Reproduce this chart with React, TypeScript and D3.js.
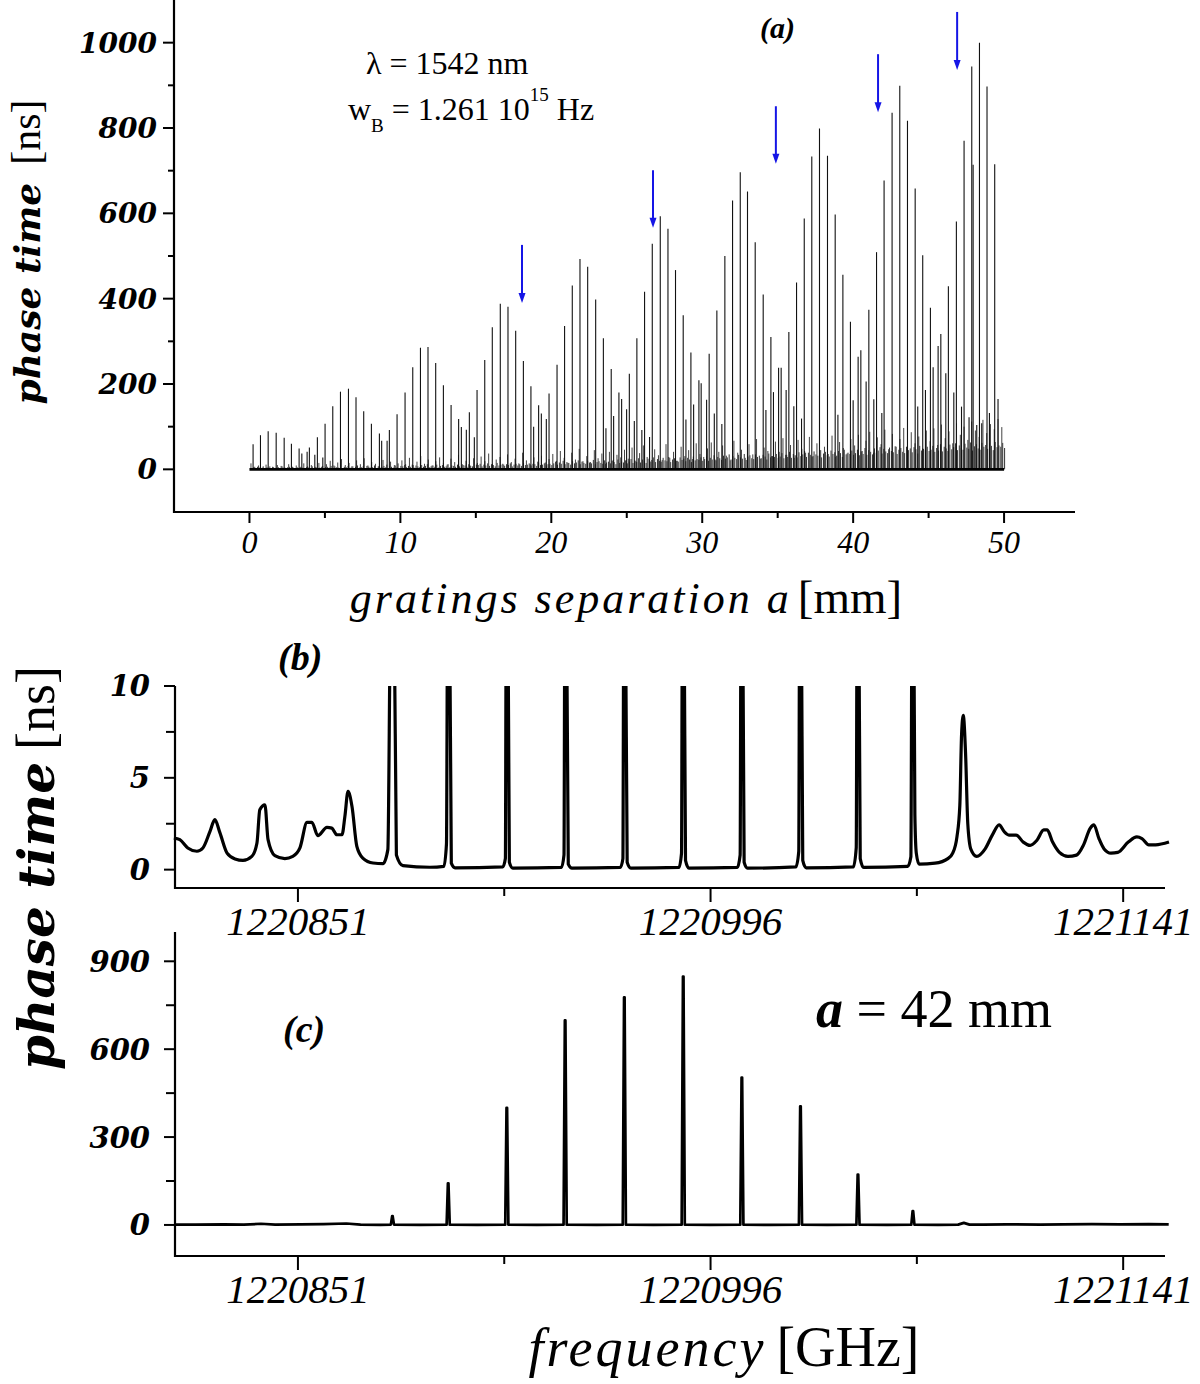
import React from "react";
import * as d3 from "d3";

// ---------- Panel (a): phase time vs gratings separation ----------
const sepA = [0.24,0.73,1.24,1.77,2.30,2.78,3.29,3.47,3.82,3.97,
  4.33,4.50,4.86,5.01,5.52,6.03,6.56,7.06,7.57,8.08,
  8.61,8.76,9.12,9.27,9.78,10.31,10.82,11.33,11.83,12.34,
  12.85,13.36,13.86,14.04,14.37,14.57,14.90,15.08,15.59,16.09,
  16.62,17.13,17.64,18.15,18.65,18.83,19.16,19.34,19.67,19.85,
  20.38,20.88,21.39,21.90,22.41,22.94,23.45,23.62,23.97,24.13,
  24.48,24.66,24.99,25.17,25.50,25.67,26.00,26.18,26.51,26.69,
  27.22,27.73,28.23,28.74,28.92,29.25,29.43,29.78,29.93,30.29,
  30.46,30.80,30.97,31.30,31.50,32.01,32.52,33.00,33.51,34.04,
  34.22,34.55,34.72,35.06,35.23,35.56,35.74,36.07,36.25,36.58,
  36.76,37.26,37.77,38.30,38.81,38.99,39.32,39.82,40.00,40.33,
  40.51,40.86,41.04,41.37,41.55,41.90,42.05,42.58,43.09,43.60,
  44.11,44.28,44.61,44.79,45.12,45.30,45.63,45.81,46.14,46.31,
  46.67,46.84,47.18,47.35,47.68,47.86,47.95,48.19,48.37,48.52,
  48.87,49.03,49.38,49.60];

const timeA = [59,80,89,86,74,60,49,37,41,51,
  34,75,28,107,148,182,189,169,136,107,
  84,67,67,92,129,180,239,285,287,249,
  197,151,118,99,93,134,75,186,256,333,
  388,381,325,254,195,100,150,131,118,178,
  245,336,431,493,475,398,307,96,235,125,
  180,165,141,224,113,307,92,416,76,529,
  593,564,467,361,117,274,152,209,202,163,
  271,131,372,106,500,630,696,651,532,410,
  139,310,181,238,238,186,322,148,438,119,
  588,733,799,735,597,128,456,346,162,264,
  279,206,374,164,509,132,677,836,899,817,
  658,147,502,186,379,239,289,317,225,429,
  180,581,147,770,122,944,714,104,1000,108,
  897,132,715,165];

// low-level "grass" lines, sampled every 0.25 mm starting at 0.1 mm
const grassStart = 0.1;
const grassStep = 0.25;
const grassTime = [
  14,6,9,4,11,7,5,10,8,4,12,6,9,5,14,7,10,6,15,8,
  12,20,9,16,24,10,15,7,21,12,26,9,17,13,8,22,11,18,10,14,
  21,12,27,10,18,31,13,23,9,19,28,15,11,25,17,34,12,20,10,26,
  15,30,19,37,13,23,29,11,35,17,25,14,39,21,12,28,18,32,16,24,
  36,20,43,27,15,39,23,48,19,31,17,45,26,37,13,41,22,34,28,46,
  25,51,19,38,56,29,17,47,33,22,59,27,41,20,53,31,45,24,61,36,
  29,49,63,23,41,56,32,21,67,39,46,27,59,35,71,25,51,43,31,65,
  41,73,34,57,27,69,48,39,76,31,61,45,53,36,79,29,64,50,37,71,
  56,81,43,67,88,39,75,59,93,47,83,53,71,97,45,87,61,77,49,91,
  66,96,57,105,73,89,61,108,81,100,69,112,91,76,116,85,106,94,118,99];

// very short lines that thicken the base band, every 0.125 mm from 0.16 mm
const fuzzStart = 0.16;
const fuzzStep = 0.125;
const fuzzTime = [
  3,5,2,6,4,3,7,2,5,4,3,6,2,4,5,3,7,4,2,5,6,3,4,2,5,3,6,4,2,5,4,3,7,2,5,3,4,6,2,5,
  6,4,8,3,7,5,4,9,3,6,5,8,4,7,3,6,9,4,5,7,3,8,6,4,5,9,3,7,4,6,8,5,3,7,6,4,9,5,3,8,
  7,10,5,8,6,11,4,9,7,5,10,6,8,12,5,7,9,6,11,4,8,10,6,7,12,5,9,8,6,11,7,5,10,9,6,12,8,7,5,11,
  10,13,7,11,9,14,8,12,10,7,15,9,11,13,8,12,10,14,7,11,13,9,12,8,15,10,11,14,9,13,12,8,16,10,11,14,9,12,13,10,
  14,18,11,16,13,20,12,17,15,11,19,14,16,21,12,18,15,13,20,16,14,22,12,17,19,15,13,21,16,18,14,20,17,12,23,15,18,16,21,14,
  18,24,15,21,17,26,16,23,20,15,25,19,22,28,17,24,20,18,27,21,19,29,17,23,26,20,18,28,22,25,19,27,23,17,30,21,24,22,28,20,
  24,30,20,27,23,33,21,29,26,22,32,25,28,35,23,31,27,24,34,28,25,36,22,30,33,26,24,35,29,32,26,34,30,23,37,28,31,29,36,27,
  30,38,26,34,29,41,27,36,33,28,40,31,35,43,29,39,34,30,42,35,32,45,28,37,41,33,30,44,36,40,32,43,38,29,46,35,39,36,44,34,
  38,46,33,42,36,50,34,45,41,35,49,39,44,52,37,48,42,38,51,43,40,54,36,46,50,41,38,53,45,49,40,52,47,37,55,44,48,45,53,43,
  46,55,41,50,44,59,42,53,49,43,58,47,52,61,45,56,50,46,60,51,48,63,44,54,59,49,46,62,53,57,48,61,55,45,64,52,56,53,62,50];

const arrowSep = [18.06, 26.74, 34.88, 41.65, 46.89];
const arrowTop = [526, 701, 851, 973, 1072];
const arrowTip = [390, 566, 716, 837, 936];

const xTicksA = [0, 10, 20, 30, 40, 50];
const xMinorA = [5, 15, 25, 35, 45];
const yTicksA = [0, 200, 400, 600, 800, 1000];
const yMinorA = [100, 300, 500, 700, 900];

// ---------- Panel (b): phase time vs frequency ----------
const freqB = [
  1220807.4,1220809.5,1220812.3,1220815.5,1220817.6,1220820.1,1220821.8,1220823.6,1220826.1,1220828.9,
  1220831.7,1220834.8,1220836.6,1220837.6,1220839.4,1220840.5,1220842.9,1220846.4,1220849.2,1220851.7,
  1220854.2,1220855.9,1220858.0,1220861.2,1220862.9,1220864.7,1220866.5,1220867.5,1220868.6,1220870.0,
  1220871.7,1220873.8,1220877.4,1220880.9,1220882.6,1220883.6,1220884.8,1220885.6,1220887.9,1220897.4,
  1220902.3,1220903.2,1220903.6,1220904.3,1220904.9,1220906.2,
  1220923.0,1220923.9,1220924.2,1220924.8,1220925.3,1220926.5,
  1220943.6,1220944.5,1220944.8,1220945.4,1220946.0,1220947.3,
  1220964.3,1220965.2,1220965.5,1220966.1,1220966.7,1220968.0,
  1220984.9,1220985.8,1220986.1,1220986.7,1220987.2,1220988.4,
  1221005.4,1221006.4,1221006.7,1221007.3,1221007.8,1221009.0,
  1221026.0,1221027.0,1221027.3,1221027.9,1221028.4,1221029.6,
  1221046.2,1221047.2,1221047.5,1221048.1,1221048.6,1221049.8,
  1221065.3,1221066.4,1221066.8,1221067.4,1221067.8,1221068.3,1221069.3,1221074.9,1221079.4,
  1221081.1,1221082.6,1221083.6,1221084.2,1221084.8,1221085.6,1221086.4,1221087.5,1221089.5,1221092.5,
  1221095.0,1221097.4,1221099.2,1221101.0,1221103.4,1221105.9,1221108.3,1221110.7,1221113.1,1221114.3,
  1221116.2,1221118.6,1221121.6,1221124.6,1221127.0,1221129.4,1221130.7,1221132.5,1221134.3,1221136.7,
  1221139.1,1221142.8,1221145.8,1221147.6,1221150.0,1221152.4,1221157.1];
const timeB = [
  1.72,1.63,1.18,1.00,1.18,2.08,2.72,2.00,0.90,0.58,
  0.50,0.72,1.45,3.26,3.53,1.63,0.76,0.60,0.72,1.18,
  2.57,2.57,1.85,2.30,2.26,1.90,1.90,2.90,4.26,3.44,
  1.27,0.63,0.36,0.33,1.09,14,14,0.80,0.22,0.13,
  0.18,1.40,14,14,0.35,0.10,
  0.15,0.60,14,14,0.40,0.08,
  0.12,0.80,14,14,0.30,0.08,
  0.12,0.60,14,14,0.40,0.08,
  0.12,0.90,14,14,0.50,0.08,
  0.12,0.80,14,14,0.40,0.08,
  0.15,1.00,14,14,0.50,0.10,
  0.15,1.20,14,14,0.60,0.12,
  0.18,0.70,14,14,3.00,0.90,0.30,0.35,0.60,
  0.90,1.80,3.50,7.30,8.40,6.40,2.50,1.10,0.72,1.13,
  1.88,2.44,2.07,1.88,1.88,1.50,1.32,1.60,2.16,2.16,
  1.50,0.94,0.72,0.79,1.32,2.25,2.44,1.69,1.13,0.90,
  0.94,1.50,1.78,1.69,1.35,1.35,1.50];

const yTicksB = [0, 5, 10];
const yMinorB = [2.5, 7.5];

// ---------- Panel (c): phase time vs frequency, a = 42 mm ----------
const peakFreqC = [1220884.2,1220903.8,1220924.4,1220944.9,1220965.7,1220986.4,1221007.0,1221027.6,1221047.8,1221067.1];
const peakTimeC = [30,142,400,698,777,848,503,405,172,47];
const baseFreqC = [1220807.5,1220815,1220825,1220832,1220838,1220843,1220852,1220860,1220868,1220873,1220880,
  1220894,1220914,1220935,1220956,1220976,1220996,1221017,1221037,1221058,1221076,1221083,1221085,1221087,
  1221092,1221100,1221112,1221120,1221130,1221140,1221150,1221157];
const baseTimeC = [1,1,2,1,4,1,2,3,5,1,0.5,0,0,0,0,0,0,0,0,0,0.5,1,7,1,1,2,1,2,3,2,3,2];

const yTicksC = [0, 300, 600, 900];
const yMinorC = [150, 450, 750];

const xTicksF = [1220851, 1220996, 1221141];
const xMinorF = [1220923.5, 1221068.5];

const TICKY_FONT = "'DejaVu Serif', serif";
const SERIF = "'Liberation Serif', 'Times New Roman', serif";

export default function App() {
  const xA = d3.scaleLinear().domain([-5, 54.7]).range([174, 1075]);
  const yA = d3.scaleLinear().domain([-100, 1100]).range([512, 0]);
  const xF = d3.scaleLinear().domain([1220807.8, 1221155.7]).range([175, 1165]);
  const yB = d3.scaleLinear().domain([-1, 10]).range([888, 686]);
  const yC = d3.scaleLinear().domain([-106, 1000]).range([1256, 932]);

  const mainA = d3.zip(sepA, timeA);
  const grass = grassTime.map((t, i) => [grassStart + i * grassStep, t]);
  const fuzz = fuzzTime.map((t, i) => [fuzzStart + i * fuzzStep, t]);

  const ptsB = d3.zip(freqB, timeB) as [number, number][];
  const lineB = d3.line<[number, number]>().x(d => xF(d[0])).y(d => yB(d[1])).curve(d3.curveMonotoneX);

  const spikes: [number, number][] = [];
  peakFreqC.forEach((f, i) => {
    spikes.push([f - 0.55, 1], [f - 0.1, peakTimeC[i]], [f + 0.1, peakTimeC[i]], [f + 0.55, 1]);
  });
  const ptsC = ([...(d3.zip(baseFreqC, baseTimeC) as [number, number][]), ...spikes]).sort((a, b) => a[0] - b[0]);
  const lineC = d3.line<[number, number]>().x(d => xF(d[0])).y(d => yC(d[1]));

  const axisW = 2.2;

  return (
    <svg width={1200} height={1384} style={{ position: "absolute", left: 0, top: 0, background: "#fff" }}>
      <rect x={0} y={0} width={1200} height={1384} fill="#fff" />
      <defs>
        <clipPath id="clipB">
          <rect x={170} y={yB(10)} width={1010} height={yB(-1) - yB(10)} />
        </clipPath>
      </defs>

      {/* ================= Panel (a) ================= */}
      <g>
        {fuzz.map(([s, t], i) => (
          <line key={"f" + i} x1={xA(s)} x2={xA(s)} y1={yA(0)} y2={yA(t)} stroke="#333" strokeWidth={1} />
        ))}
        {grass.map(([s, t], i) => (
          <line key={"g" + i} x1={xA(s)} x2={xA(s)} y1={yA(0)} y2={yA(t)} stroke="#444" strokeWidth={1} />
        ))}
        {mainA.map(([s, t], i) => (
          <line key={"m" + i} x1={xA(s)} x2={xA(s)} y1={yA(0)} y2={yA(t)} stroke="#111" strokeWidth={1.1} />
        ))}
        <line x1={xA(0)} x2={xA(50)} y1={yA(0)} y2={yA(0)} stroke="#000" strokeWidth={2.6} />

        {arrowSep.map((s, i) => (
          <g key={"ar" + i}>
            <line x1={xA(s)} x2={xA(s)} y1={yA(arrowTop[i])} y2={yA(arrowTip[i]) - 8} stroke="#1515e6" strokeWidth={2} />
            <path
              d={`M${xA(s) - 3.5},${yA(arrowTip[i]) - 10} L${xA(s) + 3.5},${yA(arrowTip[i]) - 10} L${xA(s)},${yA(arrowTip[i])} Z`}
              fill="#1515e6"
            />
          </g>
        ))}

        {/* axes */}
        <line x1={174} x2={174} y1={0} y2={513} stroke="#000" strokeWidth={axisW} />
        <line x1={173} x2={1075} y1={512} y2={512} stroke="#000" strokeWidth={axisW} />
        {yTicksA.map(v => (
          <g key={"ya" + v}>
            <line x1={163} x2={174} y1={yA(v)} y2={yA(v)} stroke="#000" strokeWidth={2} />
            <text x={157} y={yA(v)} dy="0.36em" textAnchor="end" fontFamily={TICKY_FONT} fontStyle="italic" fontWeight="bold" fontSize={28}>{v}</text>
          </g>
        ))}
        {yMinorA.map(v => (
          <line key={"yam" + v} x1={168} x2={174} y1={yA(v)} y2={yA(v)} stroke="#000" strokeWidth={2} />
        ))}
        {xTicksA.map(v => (
          <g key={"xa" + v}>
            <line x1={xA(v)} x2={xA(v)} y1={512} y2={523} stroke="#000" strokeWidth={2} />
            <text x={xA(v)} y={553} textAnchor="middle" fontFamily={SERIF} fontStyle="italic" fontSize={32}>{v}</text>
          </g>
        ))}
        {xMinorA.map(v => (
          <line key={"xam" + v} x1={xA(v)} x2={xA(v)} y1={512} y2={518} stroke="#000" strokeWidth={2} />
        ))}

        {/* titles */}
        <text transform="translate(40,252) rotate(-90)" textAnchor="middle">
          <tspan fontFamily={TICKY_FONT} fontStyle="italic" fontWeight="bold" fontSize={36}>phase time</tspan>
          <tspan fontFamily={SERIF} fontSize={42} dx={18}>[ns]</tspan>
        </text>
        <text x={626} y={613} textAnchor="middle">
          <tspan fontFamily={SERIF} fontStyle="italic" fontSize={44} letterSpacing={3}>gratings separation a</tspan>
          <tspan fontFamily={SERIF} fontSize={47} dx={6}>[mm]</tspan>
        </text>

        {/* annotations */}
        <text x={366} y={74} fontFamily={SERIF} fontSize={32}>λ = 1542 nm</text>
        <text x={348} y={120} fontFamily={SERIF} fontSize={32}>
          w<tspan fontSize={19} dy={12}>B</tspan>
          <tspan dy={-12}> = 1.261 10</tspan>
          <tspan fontSize={19} dy={-19}>15</tspan>
          <tspan dy={19}> Hz</tspan>
        </text>
        <text x={760} y={38} fontFamily={SERIF} fontStyle="italic" fontWeight="bold" fontSize={30}>(a)</text>
      </g>

      {/* ================= Panel (b) ================= */}
      <g>
        <path d={lineB(ptsB) || ""} fill="none" stroke="#000" strokeWidth={3.2} strokeLinejoin="round" clipPath="url(#clipB)" />
        <line x1={175} x2={175} y1={yB(10)} y2={889} stroke="#000" strokeWidth={axisW} />
        <line x1={174} x2={1165} y1={888} y2={888} stroke="#000" strokeWidth={axisW} />
        {yTicksB.map(v => (
          <g key={"yb" + v}>
            <line x1={164} x2={175} y1={yB(v)} y2={yB(v)} stroke="#000" strokeWidth={2} />
            <text x={150} y={yB(v)} dy="0.36em" textAnchor="end" fontFamily={TICKY_FONT} fontStyle="italic" fontWeight="bold" fontSize={29}>{v}</text>
          </g>
        ))}
        {yMinorB.map(v => (
          <line key={"ybm" + v} x1={166} x2={175} y1={yB(v)} y2={yB(v)} stroke="#000" strokeWidth={2} />
        ))}
        {xTicksF.map(v => (
          <g key={"xb" + v}>
            <line x1={xF(v)} x2={xF(v)} y1={888} y2={902} stroke="#000" strokeWidth={2} />
            <text x={xF(v)} y={935} textAnchor="middle" fontFamily={SERIF} fontStyle="italic" fontSize={41}>{v}</text>
          </g>
        ))}
        {xMinorF.map(v => (
          <line key={"xbm" + v} x1={xF(v)} x2={xF(v)} y1={888} y2={896} stroke="#000" strokeWidth={2} />
        ))}
        <text x={278} y={670} fontFamily={SERIF} fontStyle="italic" fontWeight="bold" fontSize={38}>(b)</text>
      </g>

      {/* ================= Panel (c) ================= */}
      <g>
        <path d={lineC(ptsC) || ""} fill="none" stroke="#000" strokeWidth={2.7} strokeLinejoin="round" />
        <line x1={175} x2={175} y1={932} y2={1257} stroke="#000" strokeWidth={axisW} />
        <line x1={174} x2={1165} y1={1256} y2={1256} stroke="#000" strokeWidth={axisW} />
        {yTicksC.map(v => (
          <g key={"yc" + v}>
            <line x1={164} x2={175} y1={yC(v)} y2={yC(v)} stroke="#000" strokeWidth={2} />
            <text x={150} y={yC(v)} dy="0.36em" textAnchor="end" fontFamily={TICKY_FONT} fontStyle="italic" fontWeight="bold" fontSize={29}>{v}</text>
          </g>
        ))}
        {yMinorC.map(v => (
          <line key={"ycm" + v} x1={166} x2={175} y1={yC(v)} y2={yC(v)} stroke="#000" strokeWidth={2} />
        ))}
        {xTicksF.map(v => (
          <g key={"xc" + v}>
            <line x1={xF(v)} x2={xF(v)} y1={1256} y2={1270} stroke="#000" strokeWidth={2} />
            <text x={xF(v)} y={1303} textAnchor="middle" fontFamily={SERIF} fontStyle="italic" fontSize={41}>{v}</text>
          </g>
        ))}
        {xMinorF.map(v => (
          <line key={"xcm" + v} x1={xF(v)} x2={xF(v)} y1={1256} y2={1264} stroke="#000" strokeWidth={2} />
        ))}
        <text x={283} y={1042} fontFamily={SERIF} fontStyle="italic" fontWeight="bold" fontSize={38}>(c)</text>
        <text x={816} y={1027}>
          <tspan fontFamily={SERIF} fontStyle="italic" fontWeight="bold" fontSize={54}>a</tspan>
          <tspan fontFamily={SERIF} fontSize={54}> = 42 mm</tspan>
        </text>
      </g>

      {/* shared titles for (b) and (c) */}
      <text transform="translate(54,868) rotate(-90)" textAnchor="middle">
        <tspan fontFamily={TICKY_FONT} fontStyle="italic" fontWeight="bold" fontSize={50}>phase time</tspan>
        <tspan fontFamily={SERIF} fontSize={54} dx={12}>[ns]</tspan>
      </text>
      <text x={724} y={1366} textAnchor="middle">
        <tspan fontFamily={SERIF} fontStyle="italic" fontSize={54} letterSpacing={3}>frequency</tspan>
        <tspan fontFamily={SERIF} fontSize={56} dx={10}>[GHz]</tspan>
      </text>
    </svg>
  );
}
